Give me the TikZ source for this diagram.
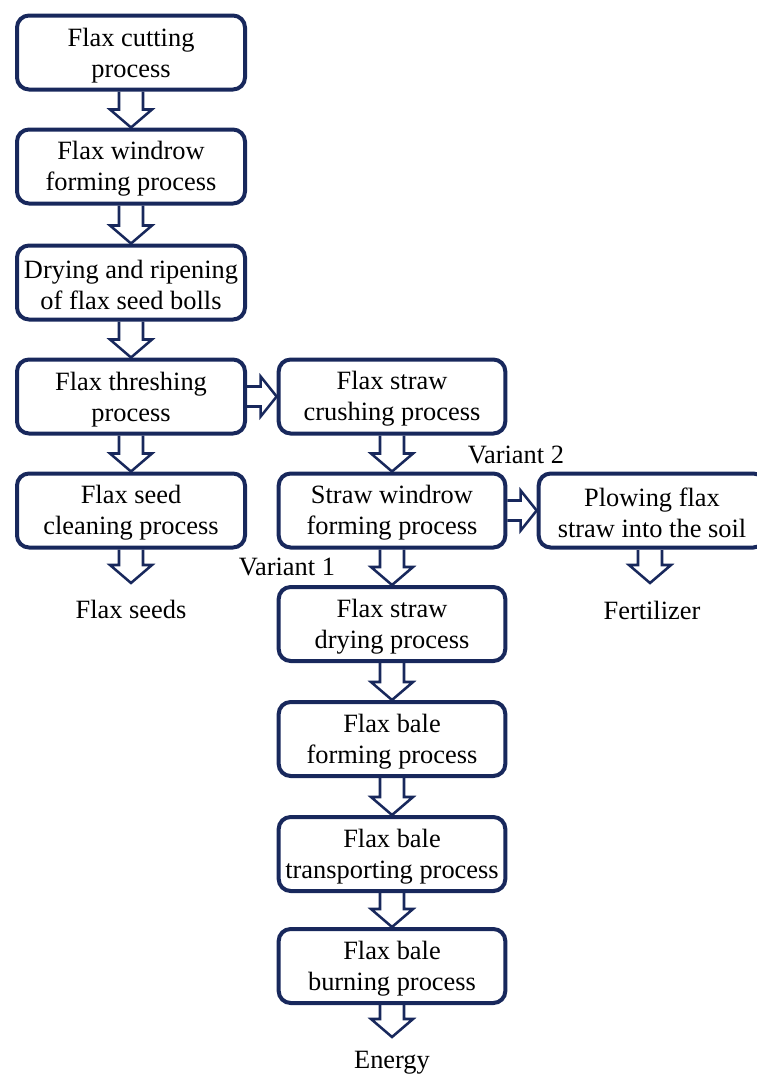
\documentclass[tikz,border=0pt]{standalone}
\usepackage{fontspec}
\setmainfont{Liberation Serif}
\usetikzlibrary{calc}
\definecolor{navy}{RGB}{24,40,92}
\tikzset{
  procbox/.style={draw=navy, line width=3pt, rounded corners=9pt,
    inner sep=0pt, minimum width=170pt, minimum height=55.5pt},
  widebox/.style={procbox, minimum width=171pt},
  boxtext/.style={align=center, inner sep=0pt, yshift=-2pt,
    font=\fontsize{19.8}{23.25}\selectfont},
  outlabel/.style={font=\fontsize{19.8}{23.25}\selectfont, inner sep=0pt},
  arrowline/.style={draw=navy, line width=1.9pt, line join=miter}
}
% hollow block arrow pointing down, from one anchor to another
\newcommand\blkdown[2]{%
  \draw[arrowline] ($(#1)+(-12,0)$) -- ($(#2)+(-12,-18)$) -- ($(#2)+(-21,-18)$)
    -- (#2) -- ($(#2)+(21,-18)$) -- ($(#2)+(12,-18)$) -- ($(#1)+(12,0)$);}
% hollow block arrow pointing right
\newcommand\blkright[2]{%
  \draw[arrowline] ($(#1)+(0,-10)$) -- ($(#2)+(-16,-10)$) -- ($(#2)+(-16,-20)$)
    -- (#2) -- ($(#2)+(-16,20)$) -- ($(#2)+(-16,10)$) -- ($(#1)+(0,10)$);}
\begin{document}
\begin{tikzpicture}[x=0.75pt, y=-0.75pt]
\useasboundingbox (0,0) rectangle (757,1075);

% left column
\node[widebox, label={[boxtext]center:{Flax cutting\\process}}] (L1) at (131,52.5) {};
\node[widebox, label={[boxtext]center:{Flax windrow\\forming process}}] (L2) at (131,166.5) {};
\node[widebox, label={[boxtext]center:{Drying and ripening\\of flax seed bolls}}] (L3) at (131,282.5) {};
\node[widebox, label={[boxtext]center:{Flax threshing\\process}}] (L4) at (131,396.5) {};
\node[widebox, label={[boxtext]center:{Flax seed\\cleaning process}}] (L5) at (131,510.5) {};
\coordinate (seedTip) at (131,583);
\node[outlabel] (seeds) at (131,609) {Flax seeds};

% middle column
\node[procbox, label={[boxtext]center:{Flax straw\\crushing process}}] (M1) at (392,396.5) {};
\node[procbox, label={[boxtext]center:{Straw windrow\\forming process}}] (M2) at (392,510.5) {};
\node[procbox, label={[boxtext]center:{Flax straw\\drying process}}] (M3) at (392,624) {};
\node[procbox, label={[boxtext]center:{Flax bale\\forming process}}] (M4) at (392,739) {};
\node[procbox, label={[boxtext]center:{Flax bale\\transporting process}}] (M5) at (392,854) {};
\node[procbox, label={[boxtext]center:{Flax bale\\burning process}}] (M6) at (392,966) {};
\coordinate (energyTip) at (392,1037);
\node[outlabel] (energy) at (392,1063) {Energy};

% right branch
\node[procbox, label={[boxtext]center:{Plowing flax\\straw into the soil}}] (R1) at (652,510.5) {};
\coordinate (R1out) at (650,550);
\coordinate (fertTip) at (650,583);
\node[outlabel] (fert) at (652,610) {Fertilizer};

% variant labels
\node[outlabel] (v2) at (516,455) {Variant 2};
\node[outlabel] (v1) at (287,567) {Variant 1};

% arrows
\blkdown{L1.south}{L2.north}
\blkdown{L2.south}{L3.north}
\blkdown{L3.south}{L4.north}
\blkdown{L4.south}{L5.north}
\blkdown{L5.south}{seedTip}
\blkright{L4.east}{M1.west}
\blkdown{M1.south}{M2.north}
\blkdown{M2.south}{M3.north}
\blkdown{M3.south}{M4.north}
\blkdown{M4.south}{M5.north}
\blkdown{M5.south}{M6.north}
\blkdown{M6.south}{energyTip}
\blkright{M2.east}{R1.west}
\blkdown{R1out}{fertTip}
\end{tikzpicture}
\end{document}
